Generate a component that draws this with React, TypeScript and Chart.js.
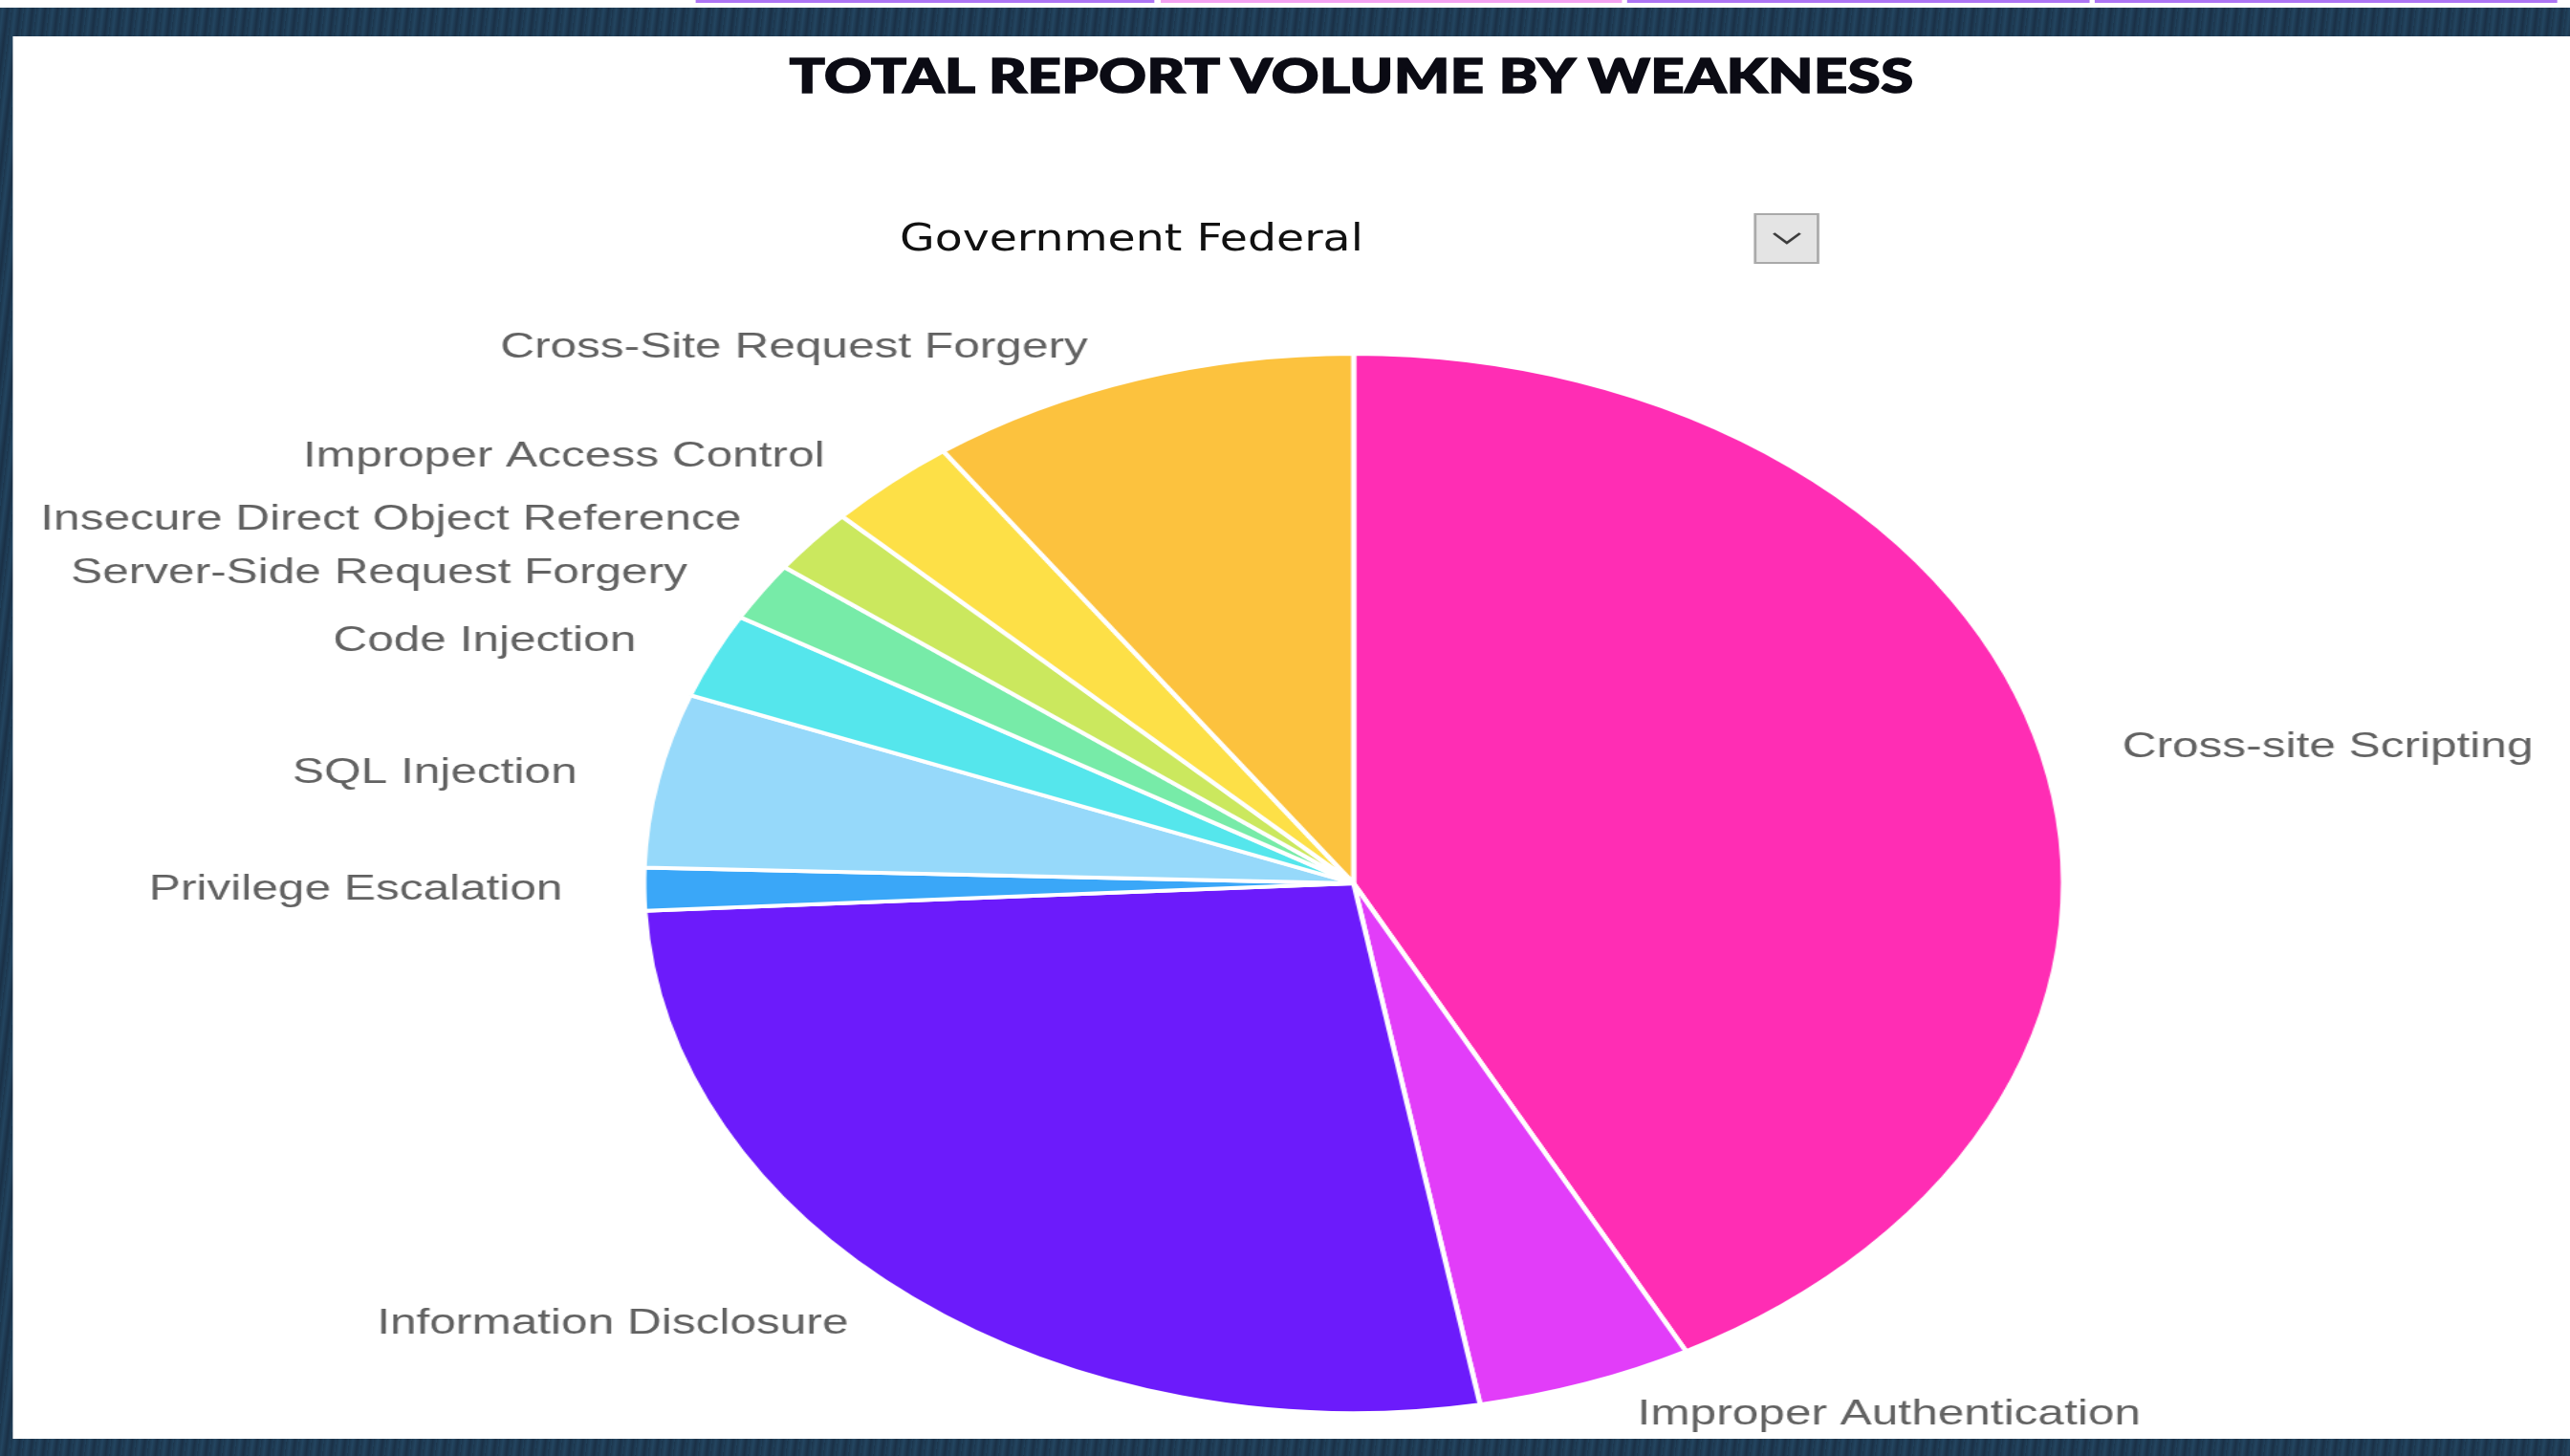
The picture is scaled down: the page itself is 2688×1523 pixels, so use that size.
import React, { useEffect, useRef } from "react";
import { Chart, registerables } from "chart.js";

Chart.register(...registerables);

// ---- data ----
const categories = [
  "Cross-site Scripting",
  "Improper Authentication",
  "Information Disclosure",
  "Privilege Escalation",
  "SQL Injection",
  "Code Injection",
  "Server-Side Request Forgery",
  "Insecure Direct Object Reference",
  "Improper Access Control",
  "Cross-Site Request Forgery",
];
const reportShare = [42.2, 4.9, 27.0, 1.3, 5.3, 2.6, 1.8, 2.0, 3.0, 9.8];
const sliceColors = [
  "#ff2db4",
  "#e23df9",
  "#6c1bfb",
  "#3aa7f8",
  "#96d9fa",
  "#55e6ec",
  "#77eba8",
  "#cbe85e",
  "#fde047",
  "#fcc23e",
];
const chartTitle = "TOTAL REPORT VOLUME BY WEAKNESS";
const filterValue = "Government Federal";

// the reference screenshot is stretched horizontally
const SX = 1.34;
const W = 2688;
const H = 1523;
const UW = W / SX;

const PANEL_LEFT = 14 / SX;
const PANEL_TOP = 38;
const PANEL_W = UW - PANEL_LEFT;
const PANEL_H = 1505 - PANEL_TOP;

const PIE_CX = 1416 / SX - PANEL_LEFT; // relative to canvas
const PIE_CY = 924 - PANEL_TOP;
const PIE_R = 554;

const outsideLabels = {
  id: "outsideLabels",
  afterDatasetsDraw(chart: any) {
    const ctx = chart.ctx;
    const meta = chart.getDatasetMeta(0);
    ctx.save();
    ctx.font = "37px 'Liberation Sans', Arial, sans-serif";
    ctx.fillStyle = "#626262";
    ctx.textBaseline = "middle";
    meta.data.forEach((arc: any, i: number) => {
      const { x, y, startAngle, endAngle, outerRadius } = arc.getProps(
        ["x", "y", "startAngle", "endAngle", "outerRadius"],
        true
      );
      const mid = (startAngle + endAngle) / 2;
      const r = outerRadius * 1.062;
      const ax = x + Math.cos(mid) * r;
      const ay = y + Math.sin(mid) * r;
      const right = Math.cos(mid) >= 0;
      ctx.textAlign = right ? "left" : "right";
      ctx.fillText(String(chart.data.labels[i]), right ? ax + 29 : ax - 29, ay);
    });
    ctx.restore();
  },
};

export default function App() {
  const canvasRef = useRef<HTMLCanvasElement | null>(null);

  useEffect(() => {
    const canvas = canvasRef.current;
    if (!canvas) return;
    const half = PIE_R + 6;
    const chart = new Chart(canvas, {
      type: "pie",
      data: {
        labels: categories,
        datasets: [
          {
            data: reportShare,
            backgroundColor: sliceColors,
            borderColor: "#ffffff",
            borderWidth: 4,
            radius: PIE_R,
          } as any,
        ],
      },
      options: {
        responsive: false,
        animation: false,
        devicePixelRatio: 1,
        layout: {
          padding: {
            left: PIE_CX - half,
            right: PANEL_W - (PIE_CX + half),
            top: PIE_CY - half,
            bottom: PANEL_H - (PIE_CY + half),
          },
        },
        plugins: {
          legend: { display: false },
          tooltip: { enabled: false },
          title: { display: false },
        },
      },
      plugins: [outsideLabels],
    });
    return () => chart.destroy();
  }, []);

  const segs = [
    { l: 728, r: 1208, c: "#ad74f4" },
    { l: 1214, r: 1697, c: "#f3a2f2" },
    { l: 1702, r: 2186, c: "#ad74f4" },
    { l: 2191, r: 2674, c: "#ad74f4" },
  ];

  return (
    <div
      style={{
        position: "fixed",
        left: 0,
        top: 0,
        width: W,
        height: H,
        overflow: "hidden",
        background:
          "repeating-linear-gradient(97deg, #1c364d 0px, #234560 4px, #1a3046 9px, #20405a 13px)",
      }}
    >
      <div
        style={{
          position: "absolute",
          left: 0,
          top: 0,
          width: UW,
          height: H,
          transform: `scaleX(${SX})`,
          transformOrigin: "0 0",
        }}
      >
        <div
          style={{
            position: "absolute",
            left: 0,
            top: 0,
            width: UW,
            height: 8,
            background: "#ffffff",
          }}
        />
        {segs.map((s, i) => (
          <div
            key={i}
            style={{
              position: "absolute",
              left: s.l / SX,
              top: 0,
              width: (s.r - s.l) / SX,
              height: 3,
              background: s.c,
            }}
          />
        ))}
        <div
          style={{
            position: "absolute",
            left: PANEL_LEFT,
            top: PANEL_TOP,
            width: PANEL_W,
            height: PANEL_H,
            background: "#ffffff",
          }}
        >
          <canvas
            ref={canvasRef}
            width={Math.round(PANEL_W)}
            height={PANEL_H}
            style={{
              position: "absolute",
              left: 0,
              top: 0,
              width: Math.round(PANEL_W),
              height: PANEL_H,
            }}
          />
        </div>
        <div
          style={{
            position: "absolute",
            left: 1414 / SX,
            top: 78,
            transform: "translate(-50%, -50%) scaleX(0.915)",
            whiteSpace: "nowrap",
            fontFamily: "'Lato Black', Lato, 'Open Sans', sans-serif",
            fontWeight: 900,
            fontSize: 50,
            lineHeight: "50px",
            color: "#0b0b14",
            WebkitTextStroke: "1.6px #0b0b14",
            letterSpacing: 0.5,
          }}
        >
          {chartTitle}
        </div>
        <div
          style={{
            position: "absolute",
            left: 941 / SX,
            top: 249,
            transform: "translateY(-50%)",
            whiteSpace: "nowrap",
            fontFamily: "'DejaVu Sans Condensed', 'DejaVu Sans', sans-serif",
            fontSize: 39.3,
            lineHeight: "40px",
            color: "#111111",
          }}
        >
          {filterValue}
        </div>
        <div
          style={{
            position: "absolute",
            left: 1834 / SX,
            top: 223,
            width: 69 / SX,
            height: 53,
            boxSizing: "border-box",
            background: "#e4e4e4",
            border: "2px solid #a9a9a9",
          }}
        >
          <svg
            width={69 / SX - 4}
            height={49}
            viewBox={`0 0 ${69 / SX - 4} 49`}
            style={{ position: "absolute", left: 0, top: 0 }}
          >
            <polyline
              points="13.5,19 23.7,29 34,19"
              fill="none"
              stroke="#3a3a3a"
              strokeWidth={2.4}
            />
          </svg>
        </div>
      </div>
    </div>
  );
}
